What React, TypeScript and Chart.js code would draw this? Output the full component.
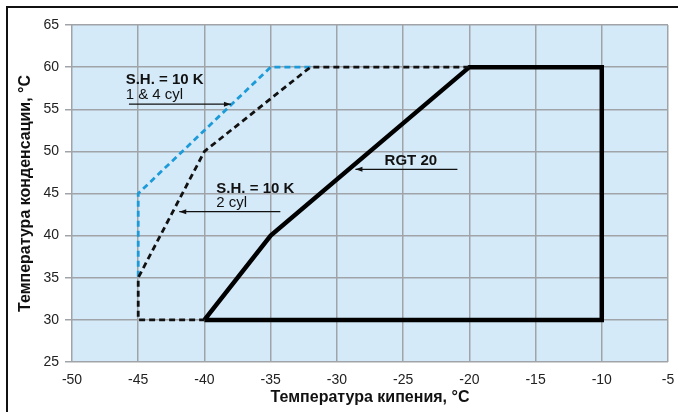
import React, { useEffect, useRef } from "react";
import { Chart, registerables } from "chart.js";

Chart.register(...registerables);

// Envelope data (evaporating temp, condensing temp)
const rgtX = [-40, -35, -20, -10, -10, -40];
const rgtY = [30, 40, 60, 60, 30, 30];

const twoCylX = [-20, -32, -40, -45, -45, -40];
const twoCylY = [60, 60, 50, 35, 30, 30];

const oneFourCylX = [-32, -35, -45, -45];
const oneFourCylY = [60, 60, 45, 35];

const xTicks = [-50, -45, -40, -35, -30, -25, -20, -15, -10, -5];
const yTicks = [25, 30, 35, 40, 45, 50, 55, 60, 65];

const xTitle = "Температура кипения, °С";
const yTitle = "Температура конденсации, °С";

// Annotation texts
const labelSH = "S.H. = 10 K";
const label14 = "1 & 4 cyl";
const label2 = "2 cyl";
const labelRGT = "RGT 20";

const FONT = "'Liberation Sans Narrow', 'Liberation Sans', Arial, sans-serif";

const toPts = (xs: number[], ys: number[]) => xs.map((x, i) => ({ x, y: ys[i] }));

const bgPlugin = {
  id: "bgPlugin",
  beforeDraw(chart: any) {
    const { ctx, chartArea } = chart;
    ctx.save();
    ctx.fillStyle = "#fff";
    ctx.fillRect(0, 0, chart.width, chart.height);
    ctx.fillStyle = "#d5eaf9";
    ctx.fillRect(chartArea.left, chartArea.top, chartArea.right - chartArea.left, chartArea.bottom - chartArea.top);
    ctx.restore();
  },
  afterDraw(chart: any) {
    const { ctx } = chart;
    ctx.save();
    ctx.strokeStyle = "#111";
    ctx.lineWidth = 2;
    ctx.beginPath();
    ctx.moveTo(7, chart.height);
    ctx.lineTo(7, 7);
    ctx.lineTo(chart.width, 7);
    ctx.stroke();
    ctx.restore();
  },
};

function arrow(ctx: CanvasRenderingContext2D, x1: number, y: number, x2: number) {
  ctx.beginPath();
  ctx.moveTo(x1, y);
  ctx.lineTo(x2, y);
  ctx.stroke();
  const dir = x2 > x1 ? 1 : -1;
  ctx.beginPath();
  ctx.moveTo(x2, y);
  ctx.lineTo(x2 - dir * 7, y - 2.5);
  ctx.lineTo(x2 - dir * 7, y + 2.5);
  ctx.closePath();
  ctx.fill();
}

const annoPlugin = {
  id: "annoPlugin",
  afterDatasetsDraw(chart: any) {
    const { ctx } = chart;
    const xs = chart.scales.x;
    const ys = chart.scales.y;
    const px = (v: number) => xs.getPixelForValue(v);
    const py = (v: number) => ys.getPixelForValue(v);
    ctx.save();
    ctx.fillStyle = "#111";
    ctx.strokeStyle = "#111";
    ctx.lineWidth = 1.2;
    ctx.textBaseline = "alphabetic";
    ctx.textAlign = "left";
    const bold = `bold 15px ${FONT}`;
    const norm = `15px ${FONT}`;

    // 1 & 4 cyl
    ctx.font = bold;
    ctx.fillText(labelSH, px(-45.95), py(58.0));
    ctx.font = norm;
    ctx.fillText(label14, px(-45.95), py(56.2));
    arrow(ctx, px(-45.7), py(55.6), px(-38.0));

    // 2 cyl
    ctx.font = bold;
    ctx.fillText(labelSH, px(-39.1), py(45.1));
    ctx.font = norm;
    ctx.fillText(label2, px(-39.1), py(43.4));
    arrow(ctx, px(-34.27), py(42.84), px(-41.9));

    // RGT 20
    ctx.font = bold;
    ctx.fillText(labelRGT, px(-26.4), py(48.4));
    arrow(ctx, px(-20.9), py(47.87), px(-28.6));
    ctx.restore();
  },
};

export default function App() {
  const canvasRef = useRef<HTMLCanvasElement | null>(null);

  useEffect(() => {
    if (!canvasRef.current) return;
    const chart = new Chart(canvasRef.current, {
      type: "scatter",
      data: {
        datasets: [
          {
            label: "2 cyl",
            data: toPts(twoCylX, twoCylY),
            showLine: true,
            borderColor: "#111",
            borderWidth: 2.8,
            borderDash: [6, 4],
            pointRadius: 0,
            fill: false,
            tension: 0,
          },
          {
            label: "1 & 4 cyl",
            data: toPts(oneFourCylX, oneFourCylY),
            showLine: true,
            borderColor: "#1d9ad8",
            borderWidth: 2.8,
            borderDash: [6, 4],
            pointRadius: 0,
            fill: false,
            tension: 0,
          },
          {
            label: "RGT 20",
            data: toPts(rgtX, rgtY),
            showLine: true,
            borderColor: "#000",
            borderWidth: 4.5,
            borderJoinStyle: "miter",
            pointRadius: 0,
            fill: false,
            tension: 0,
          },
        ],
      },
      options: {
        animation: false,
        responsive: false,
        maintainAspectRatio: false,
        layout: { padding: { left: 0, top: 25, right: 10, bottom: 0 } },
        plugins: {
          legend: { display: false },
          tooltip: { enabled: false },
        },
        scales: {
          x: {
            type: "linear",
            min: -50,
            max: -5,
            afterFit: (s: any) => {
              s.height = 50;
              s.paddingLeft = 0;
              s.paddingRight = 0;
            },
            afterBuildTicks: (s: any) => {
              s.ticks = xTicks.map((v) => ({ value: v }));
            },
            border: { display: false },
            grid: { color: "#a0a4a8", lineWidth: 1.5, drawTicks: false },
            ticks: {
              padding: 10,
              color: "#222",
              font: { family: FONT, size: 14 },
              callback: (v: any) => String(v),
            },
            title: {
              display: true,
              text: xTitle,
              color: "#111",
              font: { family: FONT, size: 16, weight: "bold" },
              padding: { top: 0, bottom: 5 },
            },
          },
          y: {
            type: "linear",
            min: 25,
            max: 65,
            afterFit: (s: any) => {
              s.width = 72;
              s.paddingTop = 0;
              s.paddingBottom = 0;
            },
            afterBuildTicks: (s: any) => {
              s.ticks = yTicks.map((v) => ({ value: v }));
            },
            border: { display: false },
            grid: { color: "#a0a4a8", lineWidth: 1.5, tickLength: 7 },
            ticks: {
              padding: 6,
              color: "#222",
              font: { family: FONT, size: 14 },
              callback: (v: any) => String(v),
            },
            title: {
              display: true,
              text: yTitle,
              color: "#111",
              font: { family: FONT, size: 16, weight: "bold" },
              padding: { top: 16, bottom: 0 },
            },
          },
        },
      },
      plugins: [bgPlugin, annoPlugin],
    });
    return () => chart.destroy();
  }, []);

  return (
    <div style={{ position: "fixed", left: 0, top: 0, width: 678, height: 412 }}>
      <canvas ref={canvasRef} width={678} height={412} style={{ width: 678, height: 412, display: "block" }} />
    </div>
  );
}
